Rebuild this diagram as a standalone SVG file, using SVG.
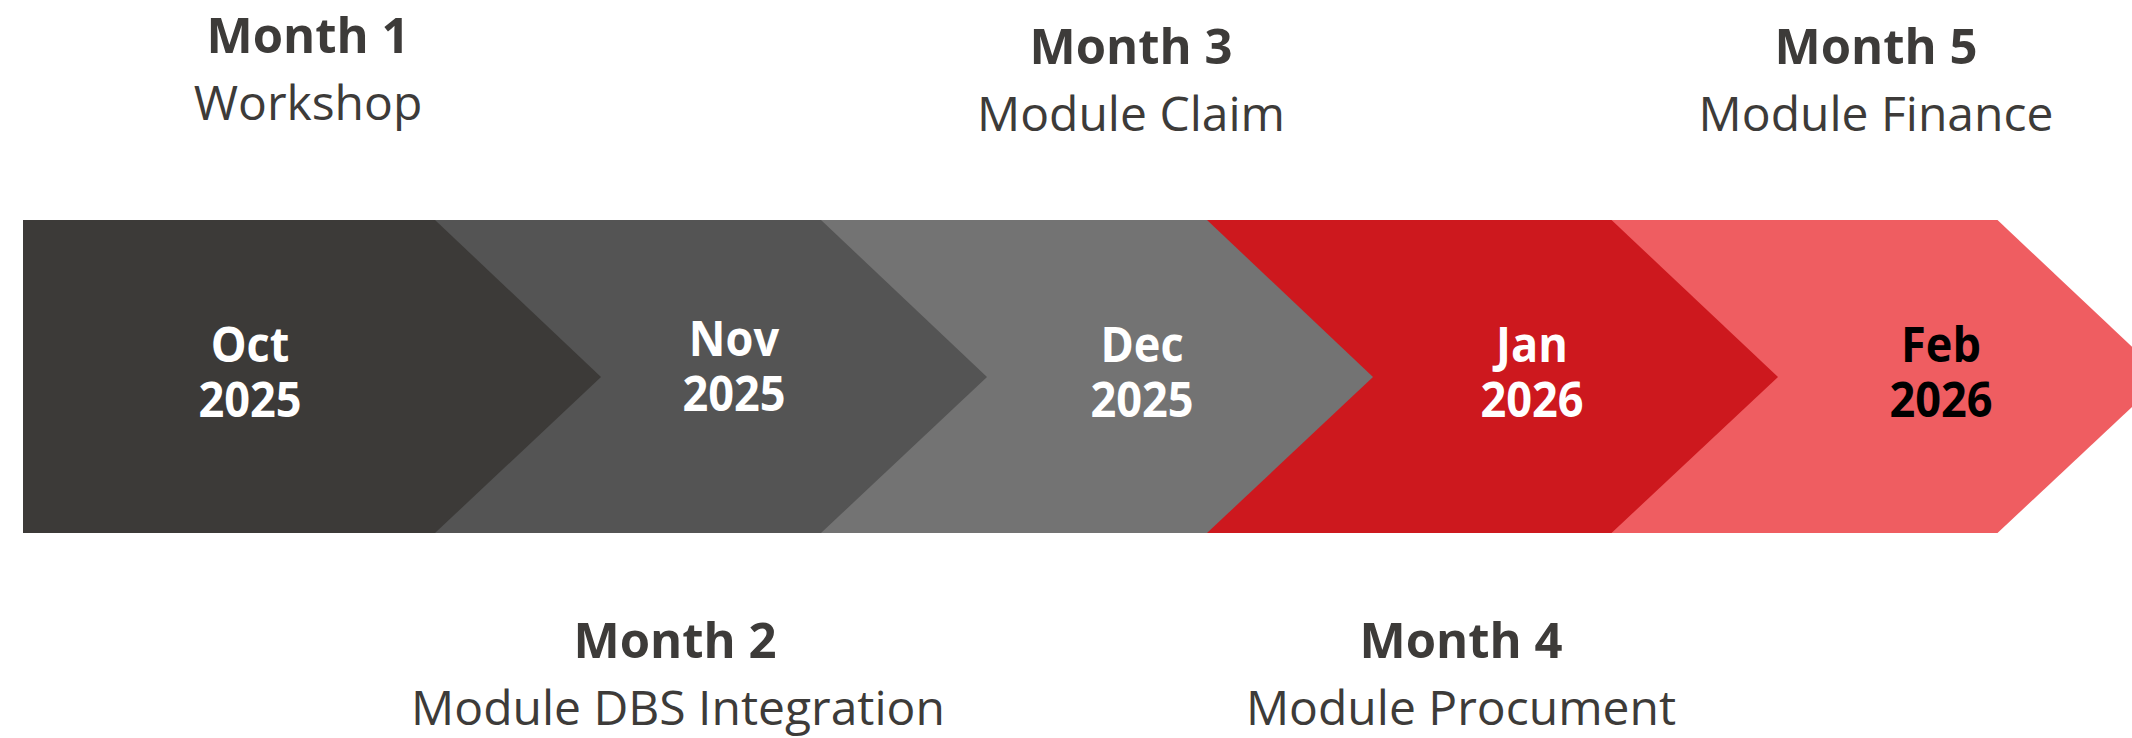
<svg xmlns="http://www.w3.org/2000/svg" width="2132" height="738" viewBox="0 0 2132 738">
  <style>
    .mb { font-family: "Open Sans", "Noto Sans", "Liberation Sans", sans-serif; font-weight: 700; font-size: 49px; fill: #3d3b39; text-anchor: middle; }
    .mr { font-family: "Open Sans", "Noto Sans", "Liberation Sans", sans-serif; font-weight: 400; font-size: 48px; fill: #3d3b39; text-anchor: middle; }
    .ct { font-family: "Open Sans", "Noto Sans", "Liberation Sans", sans-serif; font-weight: 700; font-size: 48px; fill: #ffffff; text-anchor: middle; }
    .ctb { fill: #000000; }
  </style>
  <rect width="2132" height="738" fill="#ffffff"/>
  <g id="connectors"></g>
  <g id="chev5">
    <polygon points="1611,220 1997.5,220 2164,377 1997.5,533 1611,533" fill="#ef5d61"/>
    <g transform="translate(1941,0) scale(0.94,1)">
      <text class="ct ctb" x="0" y="362">Feb</text>
      <text class="ct ctb" x="0" y="417">2026</text>
    </g>
  </g>
  <g id="chev4">
    <polygon points="1207,220 1611.5,220 1778,377 1611.5,533 1207,533" fill="#cd181e"/>
    <g transform="translate(1532,0) scale(0.94,1)">
      <text class="ct" x="0" y="362">Jan</text>
      <text class="ct" x="0" y="417">2026</text>
    </g>
  </g>
  <g id="chev3">
    <polygon points="821,220 1207,220 1373,377 1207,533 821,533" fill="#737373"/>
    <g transform="translate(1142,0) scale(0.94,1)">
      <text class="ct" x="0" y="362">Dec</text>
      <text class="ct" x="0" y="417">2025</text>
    </g>
  </g>
  <g id="chev2">
    <polygon points="435,220 821,220 987,377 821,533 435,533" fill="#545454"/>
    <g transform="translate(734,0) scale(0.94,1)">
      <text class="ct" x="0" y="356">Nov</text>
      <text class="ct" x="0" y="411">2025</text>
    </g>
  </g>
  <g id="chev1">
    <polygon points="23,220 435,220 601,377 435,533 23,533" fill="#3c3a38"/>
    <g transform="translate(250,0) scale(0.94,1)">
      <text class="ct" x="0" y="362">Oct</text>
      <text class="ct" x="0" y="417">2025</text>
    </g>
  </g>
  <g id="label1">
    <text class="mb" x="308" y="53">Month 1</text>
    <text class="mr" x="308" y="120">Workshop</text>
  </g>
  <g id="label2">
    <text class="mb" x="675" y="658">Month 2</text>
    <text class="mr" x="678" y="725">Module DBS Integration</text>
  </g>
  <g id="label3">
    <text class="mb" x="1131" y="64">Month 3</text>
    <text class="mr" x="1131" y="131">Module Claim</text>
  </g>
  <g id="label4">
    <text class="mb" x="1461" y="658">Month 4</text>
    <text class="mr" x="1461" y="725">Module Procument</text>
  </g>
  <g id="label5">
    <text class="mb" x="1876" y="64">Month 5</text>
    <text class="mr" x="1876" y="131">Module Finance</text>
  </g>
</svg>
